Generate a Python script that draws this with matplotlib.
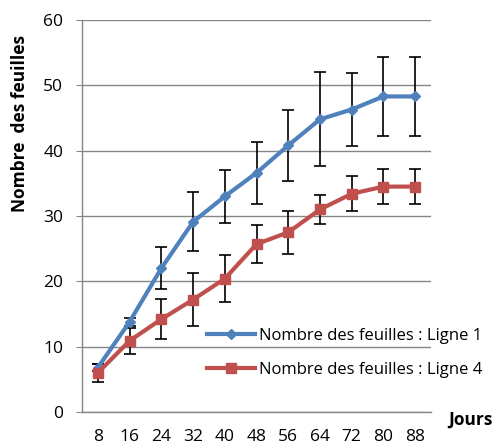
import matplotlib
matplotlib.use("Agg")
import matplotlib.pyplot as plt
from matplotlib.lines import Line2D
import numpy as np

# Données
jours = ["8", "16", "24", "32", "40", "48", "56", "64", "72", "80", "88"]
ligne1 = [6.8, 13.8, 22.0, 29.1, 33.0, 36.6, 40.8, 44.8, 46.3, 48.3, 48.3]
err1 = [0.6, 0.6, 3.2, 4.5, 4.0, 4.8, 5.4, 7.2, 5.6, 6.0, 6.0]
ligne4 = [6.0, 10.9, 14.2, 17.2, 20.4, 25.7, 27.5, 31.0, 33.4, 34.5, 34.5]
err4 = [1.4, 2.0, 3.1, 4.0, 3.6, 2.9, 3.3, 2.2, 2.7, 2.7, 2.7]
noms = ['Nombre des feuilles : Ligne 1', 'Nombre des feuilles : Ligne 4']

plt.rcParams['font.family'] = ['Open Sans', 'DejaVu Sans']

fig = plt.figure(figsize=(4.93, 4.48), dpi=100)
ax = fig.add_axes([82 / 493, 36 / 448, 349 / 493, 392 / 448])

x = np.arange(len(jours))
grid_col = '#868686'
bleu, rouge = '#4F81BD', '#C0504D'

ax.errorbar(x, ligne1, yerr=err1, color=bleu, lw=3, marker='D', ms=5,
            ecolor='black', elinewidth=1.2, capsize=4, capthick=1.2, zorder=3)
ax.errorbar(x, ligne4, yerr=err4, color=rouge, lw=3, marker='s', ms=7,
            ecolor='black', elinewidth=1.2, capsize=4, capthick=1.2, zorder=3)

ax.set_xlim(-0.5, len(jours) - 0.5)
ax.set_ylim(0, 60)
ax.set_yticks(range(0, 61, 10))
ax.set_xticks(x)
ax.set_xticklabels(jours)
ax.yaxis.grid(True, color=grid_col, lw=1)
ax.set_axisbelow(True)

for s in ['top', 'right']:
    ax.spines[s].set_visible(False)
for s in ['left', 'bottom']:
    ax.spines[s].set_color(grid_col)
    ax.spines[s].set_linewidth(1)

ax.tick_params(axis='y', length=4.5, color=grid_col, pad=9, labelsize=12.5)
ax.tick_params(axis='x', length=0, pad=12, labelsize=12.5)

lab = ax.set_ylabel('Nombre  des feuilles', fontsize=12.5, fontweight='bold')
lab.set_va('center')
ax.yaxis.set_label_coords(-62 / 349, (412 - 123) / 392)
fig.text(470 / 493, 1 - 420 / 448, 'Jours', fontsize=12.5, fontweight='bold',
         ha='center', va='center')

# légende : ligne + marqueur uniquement
handles = [Line2D([], [], color=bleu, lw=3, marker='D', ms=5),
           Line2D([], [], color=rouge, lw=3, marker='s', ms=7)]
ax.legend(handles, noms, loc='center left',
          bbox_to_anchor=(207 / 493, 1 - 353 / 448),
          bbox_transform=fig.transFigure, frameon=False, fontsize=12,
          handlelength=2.9, handletextpad=0.2, labelspacing=1.1,
          borderpad=0, borderaxespad=0)

fig.savefig('out.png', dpi=100)
